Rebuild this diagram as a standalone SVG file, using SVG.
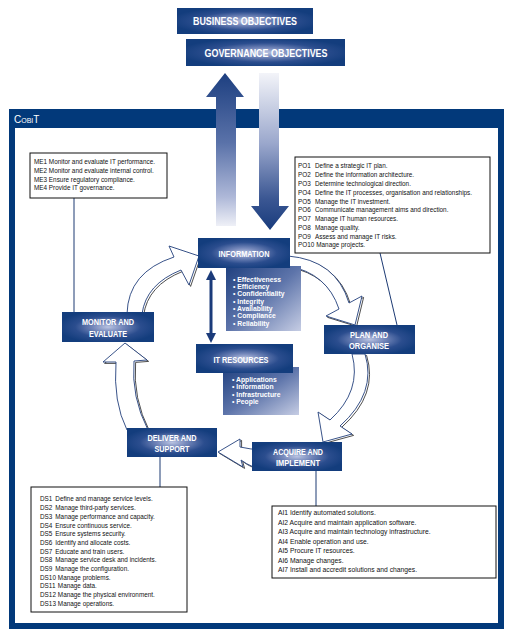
<svg xmlns="http://www.w3.org/2000/svg" width="509" height="634" viewBox="0 0 509 634">
<defs>
<radialGradient id="boxGrad" cx="0.5" cy="0.5" r="0.55">
<stop offset="0" stop-color="#b9c3e1"/>
<stop offset="0.3" stop-color="#7487ba"/>
<stop offset="0.65" stop-color="#2b4d8e"/>
<stop offset="1" stop-color="#133d7d"/>
</radialGradient>
<linearGradient id="subGrad" x1="0" y1="0" x2="1" y2="1">
<stop offset="0" stop-color="#1f407f"/>
<stop offset="0.5" stop-color="#5d74aa"/>
<stop offset="1" stop-color="#c6cde4"/>
</linearGradient>
<linearGradient id="upGrad" gradientUnits="userSpaceOnUse" x1="0" y1="73" x2="0" y2="228">
<stop offset="0" stop-color="#1d3f80"/>
<stop offset="0.45" stop-color="#5a72a9"/>
<stop offset="0.8" stop-color="#aeb8d8"/>
<stop offset="1" stop-color="#f3f4f9"/>
</linearGradient>
<linearGradient id="downGrad" gradientUnits="userSpaceOnUse" x1="0" y1="73" x2="0" y2="230">
<stop offset="0" stop-color="#f3f4f9"/>
<stop offset="0.45" stop-color="#9aa7cc"/>
<stop offset="0.8" stop-color="#3b5793"/>
<stop offset="1" stop-color="#183b7c"/>
</linearGradient>
<marker id="ah" viewBox="0 0 10 10" refX="5" refY="5" markerWidth="10" markerHeight="10" markerUnits="userSpaceOnUse" orient="auto-start-reverse">
<path d="M0,0 L10,5 L0,10 Z" fill="#1b3b7a"/>
</marker>
<style>
.box{fill:url(#boxGrad);}
.sub{fill:url(#subGrad);}
.lbl{font-family:"Liberation Sans",Arial,sans-serif;font-weight:bold;fill:#fff;text-anchor:middle;}
.bul{font-family:"Liberation Sans",Arial,sans-serif;font-weight:bold;fill:#fff;font-size:6.8px;}
.lst{font-family:"Liberation Sans",Arial,sans-serif;fill:#111;font-size:7.5px;}
.tbox{fill:#fff;stroke:#111;stroke-width:1;}
.lead{stroke:#1c3a73;stroke-width:1;fill:none;}
.harrow{fill:#fff;stroke:#22407c;stroke-width:0.9;}
.hshadow{fill:#fff;stroke:#3a3a3a;stroke-width:0.9;}
</style>
</defs>

<rect width="509" height="634" fill="#fff"/>

<g id="frame">
<rect x="9" y="109" width="495" height="520" fill="#02397a"/>
<rect x="15" y="128" width="483" height="495" fill="#fff"/>
<text x="14" y="123" font-family="'Liberation Sans',Arial,sans-serif" font-size="10" font-variant="small-caps" fill="#fff">CobiT</text>
</g>

<g id="connectors">
<path d="M216,226 L216,97 L206,97 L225,73 L244,97 L236,97 L236,226 Z" fill="url(#upGrad)"/>
<path d="M259,73 L279,73 L279,206 L289,206 L270,230 L251,206 L259,206 Z" fill="url(#downGrad)"/>
<line x1="211" y1="275" x2="211" y2="338" stroke="#1b3b7a" stroke-width="3" marker-start="url(#ah)" marker-end="url(#ah)"/>
<line class="lead" x1="74" y1="198" x2="74" y2="312"/>
<line class="lead" x1="380" y1="253" x2="397" y2="325"/>
<line class="lead" x1="160" y1="457" x2="160" y2="487"/>
<line class="lead" x1="316" y1="471" x2="316" y2="506"/>
<g transform="translate(1.6,1.4)">
<path class="hshadow" d="M127,314 Q128,272 174,257 L169,246 L199,256 L189,285 L181,270 Q146,284 142,314 Z"/>
<path class="hshadow" d="M148,430 Q131,397 134,361 L147,360 L125,343 L103,362 L116,362 Q113,402 127,430 Z"/>
<path class="hshadow" d="M288,256 Q336,260 349,303 L362,296 L355,325 L326,316 L339,309 Q327,273 288,266 Z"/>
<path class="hshadow" d="M365,354 Q377,393 340,426 L352,434 L323,442 L318,412 L330,420 Q362,391 352,354 Z"/>
<path class="hshadow" d="M286,462 Q264,477 241,460 L243,467 L218,452 L240,439 L240,447 Q262,452 282,448 Z"/>
</g>
<path class="harrow" d="M127,314 Q128,272 174,257 L169,246 L199,256 L189,285 L181,270 Q146,284 142,314 Z"/>
<path class="harrow" d="M148,430 Q131,397 134,361 L147,360 L125,343 L103,362 L116,362 Q113,402 127,430 Z"/>
<path class="harrow" d="M288,256 Q336,260 349,303 L362,296 L355,325 L326,316 L339,309 Q327,273 288,266 Z"/>
<path class="harrow" d="M365,354 Q377,393 340,426 L352,434 L323,442 L318,412 L330,420 Q362,391 352,354 Z"/>
<path class="harrow" d="M286,462 Q264,477 241,460 L243,467 L218,452 L240,439 L240,447 Q262,452 282,448 Z"/>
</g>

<g id="business-objectives">
<rect class="box" x="177" y="8" width="136" height="26"/>
<text class="lbl" x="245" y="25" font-size="11" textLength="104" lengthAdjust="spacingAndGlyphs">BUSINESS OBJECTIVES</text>
</g>
<g id="governance-objectives">
<rect class="box" x="186" y="39" width="159" height="27"/>
<text class="lbl" x="266" y="56.5" font-size="11" textLength="123" lengthAdjust="spacingAndGlyphs">GOVERNANCE OBJECTIVES</text>
</g>

<g id="me-list">
<rect class="tbox" x="30" y="153" width="137" height="45"/>
<g transform="translate(34,0) scale(0.85,1)" class="lst">
<text x="0" y="164.5">ME1 Monitor and evaluate IT performance.</text>
<text x="0" y="173.2">ME2 Monitor and evaluate internal control.</text>
<text x="0" y="181.8">ME3 Ensure regulatory compliance.</text>
<text x="0" y="190.5">ME4 Provide IT governance.</text>
</g>
</g>

<g id="po-list">
<rect class="tbox" x="295" y="157" width="195" height="96"/>
<g transform="translate(298,0) scale(0.85,1)" class="lst">
<text y="168.5"><tspan x="0">PO1</tspan><tspan x="20">Define a strategic IT plan.</tspan></text>
<text y="177.3"><tspan x="0">PO2</tspan><tspan x="20">Define the information architecture.</tspan></text>
<text y="186.1"><tspan x="0">PO3</tspan><tspan x="20">Determine technological direction.</tspan></text>
<text y="194.8"><tspan x="0">PO4</tspan><tspan x="20">Define the IT processes, organisation and relationships.</tspan></text>
<text y="203.6"><tspan x="0">PO5</tspan><tspan x="20">Manage the IT investment.</tspan></text>
<text y="212.4"><tspan x="0">PO6</tspan><tspan x="20">Communicate management aims and direction.</tspan></text>
<text y="221.2"><tspan x="0">PO7</tspan><tspan x="20">Manage IT human resources.</tspan></text>
<text y="229.9"><tspan x="0">PO8</tspan><tspan x="20">Manage quality.</tspan></text>
<text y="238.7"><tspan x="0">PO9</tspan><tspan x="20">Assess and manage IT risks.</tspan></text>
<text y="247.5"><tspan x="0">PO10</tspan><tspan x="21.5">Manage projects.</tspan></text>
</g>
</g>

<g id="information">
<rect class="sub" x="226" y="266" width="75" height="65"/>
<rect class="box" x="198" y="238" width="92" height="30"/>
<text class="lbl" x="244" y="257" font-size="9.5" textLength="51" lengthAdjust="spacingAndGlyphs">INFORMATION</text>
<g class="bul">
<text x="233" y="281.5">• Effectiveness</text>
<text x="233" y="289">• Efficiency</text>
<text x="233" y="296.3">• Confidentiality</text>
<text x="233" y="303.7">• Integrity</text>
<text x="233" y="311">• Availability</text>
<text x="233" y="318.4">• Compliance</text>
<text x="233" y="325.7">• Reliability</text>
</g>
</g>

<g id="it-resources">
<rect class="sub" x="223" y="367" width="76" height="48"/>
<rect class="box" x="196" y="344" width="97" height="29"/>
<text class="lbl" x="241" y="362.5" font-size="9.5" textLength="55" lengthAdjust="spacingAndGlyphs">IT RESOURCES</text>
<g class="bul">
<text x="232" y="382">• Applications</text>
<text x="232" y="389">• Information</text>
<text x="232" y="396.5">• Infrastructure</text>
<text x="232" y="403.5">• People</text>
</g>
</g>

<g id="monitor-evaluate">
<rect class="box" x="62" y="312" width="92" height="30"/>
<text class="lbl" x="108" y="325" font-size="9.5" textLength="52" lengthAdjust="spacingAndGlyphs">MONITOR AND</text>
<text class="lbl" x="108" y="336.5" font-size="9.5" textLength="38" lengthAdjust="spacingAndGlyphs">EVALUATE</text>
</g>

<g id="plan-organise">
<rect class="box" x="324" y="325" width="91" height="29"/>
<text class="lbl" x="369" y="337.5" font-size="9.5" textLength="38" lengthAdjust="spacingAndGlyphs">PLAN AND</text>
<text class="lbl" x="369" y="349" font-size="9.5" textLength="40" lengthAdjust="spacingAndGlyphs">ORGANISE</text>
</g>

<g id="deliver-support">
<rect class="box" x="127" y="428" width="90" height="29"/>
<text class="lbl" x="172" y="440.5" font-size="9.5" textLength="49" lengthAdjust="spacingAndGlyphs">DELIVER AND</text>
<text class="lbl" x="172" y="452" font-size="9.5" textLength="35" lengthAdjust="spacingAndGlyphs">SUPPORT</text>
</g>

<g id="acquire-implement">
<rect class="box" x="252" y="442" width="90" height="29"/>
<text class="lbl" x="298" y="455" font-size="9.5" textLength="50" lengthAdjust="spacingAndGlyphs">ACQUIRE AND</text>
<text class="lbl" x="298" y="466" font-size="9.5" textLength="44" lengthAdjust="spacingAndGlyphs">IMPLEMENT</text>
</g>

<g id="ds-list">
<rect class="tbox" x="31" y="487" width="156" height="125"/>
<g transform="translate(40,0) scale(0.85,1)" class="lst">
<text y="501.5"><tspan x="0">DS1</tspan><tspan x="18">Define and manage service levels.</tspan></text>
<text y="510.2"><tspan x="0">DS2</tspan><tspan x="18">Manage third-party services.</tspan></text>
<text y="518.9"><tspan x="0">DS3</tspan><tspan x="18">Manage performance and capacity.</tspan></text>
<text y="527.6"><tspan x="0">DS4</tspan><tspan x="18">Ensure continuous service.</tspan></text>
<text y="536.3"><tspan x="0">DS5</tspan><tspan x="18">Ensure systems security.</tspan></text>
<text y="545"><tspan x="0">DS6</tspan><tspan x="18">Identify and allocate costs.</tspan></text>
<text y="553.7"><tspan x="0">DS7</tspan><tspan x="18">Educate and train users.</tspan></text>
<text y="562.4"><tspan x="0">DS8</tspan><tspan x="18">Manage service desk and incidents.</tspan></text>
<text y="571.1"><tspan x="0">DS9</tspan><tspan x="18">Manage the configuration.</tspan></text>
<text y="579.8"><tspan x="0">DS10</tspan><tspan x="21">Manage problems.</tspan></text>
<text y="588.5"><tspan x="0">DS11</tspan><tspan x="21">Manage data.</tspan></text>
<text y="597.2"><tspan x="0">DS12</tspan><tspan x="21">Manage the physical environment.</tspan></text>
<text y="605.9"><tspan x="0">DS13</tspan><tspan x="21">Manage operations.</tspan></text>
</g>
</g>

<g id="ai-list">
<rect class="tbox" x="272" y="506" width="224" height="72"/>
<g transform="translate(278,0) scale(0.9,1)" class="lst">
<text x="0" y="515.5">AI1 Identify automated solutions.</text>
<text x="0" y="525">AI2 Acquire and maintain application software.</text>
<text x="0" y="534.5">AI3 Acquire and maintain technology infrastructure.</text>
<text x="0" y="544">AI4 Enable operation and use.</text>
<text x="0" y="553.5">AI5 Procure IT resources.</text>
<text x="0" y="563">AI6 Manage changes.</text>
<text x="0" y="572.5">AI7 Install and accredit solutions and changes.</text>
</g>
</g>
</svg>
